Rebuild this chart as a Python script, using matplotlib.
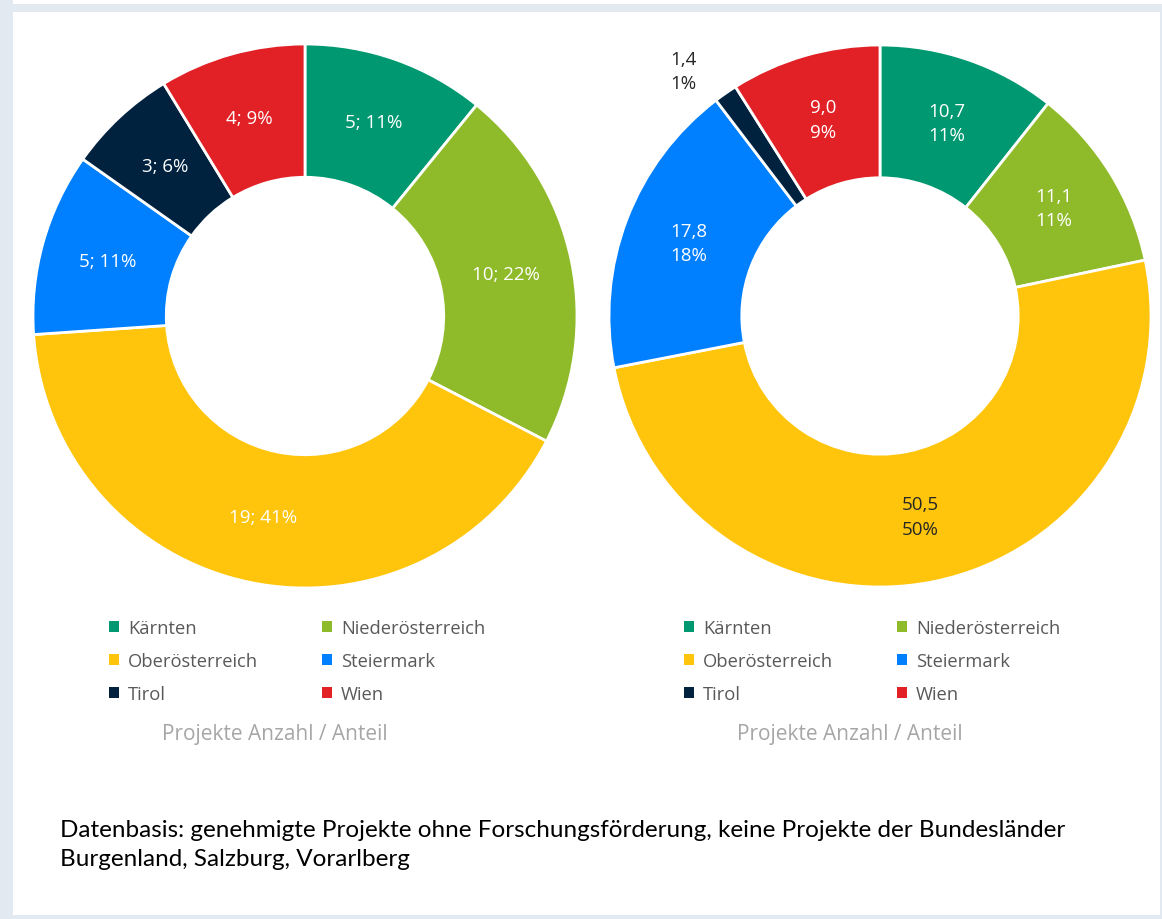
import matplotlib
matplotlib.use("Agg")
import matplotlib.pyplot as plt
from matplotlib.patches import Rectangle, Patch
import numpy as np

# ---- data ----
categories = ["Kärnten", "Niederösterreich", "Oberösterreich", "Steiermark", "Tirol", "Wien"]
colors = ["#009870", "#8FBB2A", "#FFC50D", "#0080FF", "#00223F", "#E12126"]

left_values = [5, 10, 19, 5, 3, 4]
left_pcts = [11, 22, 41, 11, 6, 9]

right_values = [10.7, 11.1, 50.5, 17.8, 1.4, 9.0]
right_pcts = [11, 11, 50, 18, 1, 9]

legend_title = "Projekte Anzahl / Anteil"
footnote = ("Datenbasis: genehmigte Projekte ohne Forschungsförderung, keine Projekte der Bundesländer\n"
            "Burgenland, Salzburg, Vorarlberg")

W, H = 1162, 920
fig = plt.figure(figsize=(W / 100, H / 100), dpi=100)
fig.patch.set_facecolor("white")

# frame
frame_col = "#E3E9F0"
fig.add_artist(Rectangle((0, 0), 13 / W, 1, transform=fig.transFigure, color=frame_col, lw=0))
fig.add_artist(Rectangle((0, 1 - 13 / H), 1, 8 / H, transform=fig.transFigure, color=frame_col, lw=0))
fig.add_artist(Rectangle((0, 0), 1, 4 / H, transform=fig.transFigure, color=frame_col, lw=0))
fig.add_artist(Rectangle((1 - 2 / W, 0), 2 / W, 1 - 5 / H, transform=fig.transFigure, color=frame_col, lw=0))

label_font = ["Open Sans", "DejaVu Sans"]


def donut(cx, cy, r, values, texts, txtcolors, outside=None):
    ax = fig.add_axes([(cx - r) / W, 1 - (cy + r) / H, 2 * r / W, 2 * r / H])
    wedges, _ = ax.pie(values, colors=colors, startangle=90, counterclock=False,
                       radius=1.0, wedgeprops=dict(width=0.49, edgecolor="white", linewidth=2))
    ax.set_xlim(-1, 1)
    ax.set_ylim(-1, 1)
    ax.set_aspect("equal")
    ax.axis("off")
    total = sum(values)
    cum = 0
    for i, v in enumerate(values):
        mid = 90 - (cum + v / 2) / total * 360
        cum += v
        rr = 0.755
        if outside is not None and i == outside:
            ang = np.deg2rad(mid + 4)
            rr = 1.16
        else:
            ang = np.deg2rad(mid)
        ax.text(rr * np.cos(ang), rr * np.sin(ang), texts[i], ha="center", va="center",
                color=txtcolors[i], fontsize=13.5, family=label_font, linespacing=1.45,
                clip_on=False)
    return wedges


ltexts = [f"{v}; {p}%" for v, p in zip(left_values, left_pcts)]
lcols = ["white"] * 6
wl = donut(305, 317, 272, left_values, ltexts, lcols)

rtexts = [f"{v:.1f}".replace(".", ",") + f"\n{p}%" for v, p in zip(right_values, right_pcts)]
rcols = ["white", "white", "#262626", "white", "#262626", "white"]
wr = donut(880, 317, 271, right_values, rtexts, rcols, outside=4)

order = [0, 2, 4, 1, 3, 5]
for x0, xc in [(109, 275), (684, 850)]:
    handles = [Patch(facecolor=colors[i], edgecolor="none") for i in order]
    labels = [categories[i] for i in order]
    fig.legend(handles, labels, ncol=2, loc="upper left",
               bbox_to_anchor=(x0 / W, 1 - 620 / H), frameon=False,
               prop=dict(family=["Open Sans", "DejaVu Sans"], size=13.2),
               labelcolor="#595959", handlelength=0.55, handleheight=0.55,
               handletextpad=0.5, columnspacing=3.45, labelspacing=0.83,
               borderpad=0, borderaxespad=0)
    fig.text(xc / W, 1 - 735 / H, legend_title, ha="center", va="center",
             fontsize=15, color="#A6A6A6", family=["Open Sans", "DejaVu Sans"])

fig.text(60 / W, 1 - 845 / H, footnote, ha="left", va="center", fontsize=17.5,
         color="black", family=["Lato", "Open Sans", "DejaVu Sans"],
         linespacing=1.42)

fig.savefig("out.png", dpi=100)
